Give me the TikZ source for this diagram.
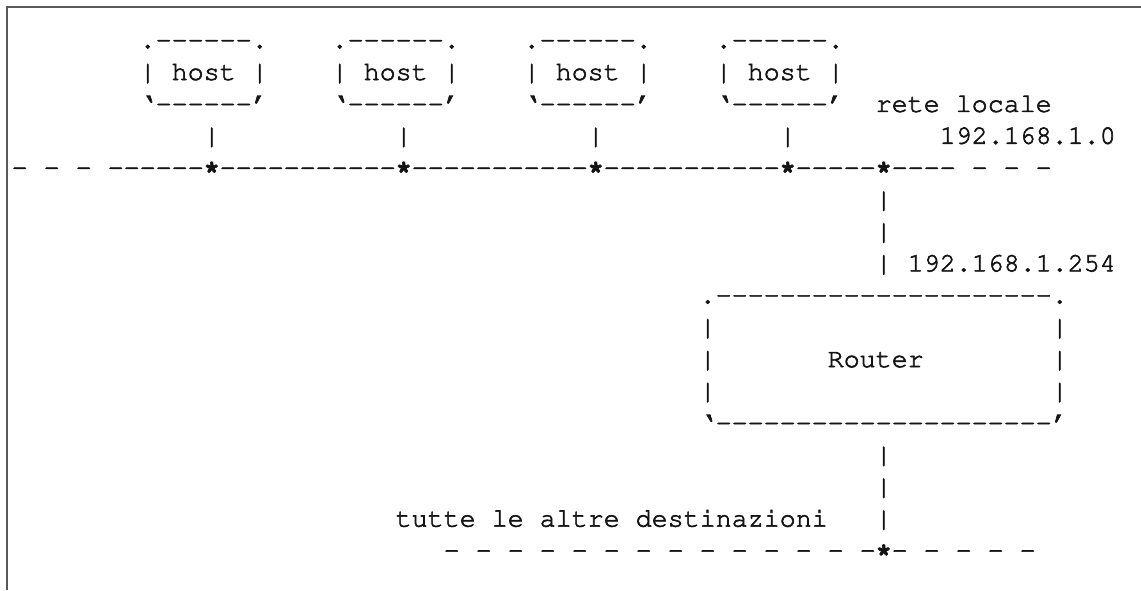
\documentclass[tikz,border=0pt]{standalone}
\usepackage[T1,TU]{fontenc}
\newcount\dcnt
\newcommand\dashes[1]{\dcnt=0\relax\loop\ifnum\dcnt<#1\relax -{}\advance\dcnt by 1\relax\repeat}
\newcommand\st{\makebox[12pt][c]{\raisebox{1.2pt}{\fontseries{b}\selectfont *}}}
\tikzset{
  asc/.style={anchor=base west, inner sep=0pt, outer sep=0pt, text=black!92,
    font=\fontencoding{T1}\fontfamily{pcr}\fontseries{m}\fontshape{n}\fontsize{20}{24}\selectfont,
    execute at begin node={\special{pdf:literal direct 2 Tr 0.45 w}},
    execute at end node={\special{pdf:literal direct 0 Tr 0.4 w}}},
  frameline/.style={draw=black!65, line width=1pt}
}
\newcommand\txtat[4]{\node[asc] (#1) at (#2,#3) {#4};}
\begin{document}
\begin{tikzpicture}
\useasboundingbox (0pt,0pt) rectangle (855.75pt,-442.5pt);
\draw[frameline] (855.75pt,-5.25pt) -- (5.25pt,-5.25pt) -- (5.25pt,-442.5pt);
\begin{scope}[x=12pt, y=-23.925pt, shift={(8.8pt,-12.15pt)}]
% hosts
\txtat{hAt}{8}{1}{.\dashes{6}.}
\txtat{hBt}{20}{1}{.\dashes{6}.}
\txtat{hCt}{32}{1}{.\dashes{6}.}
\txtat{hDt}{44}{1}{.\dashes{6}.}
\txtat{hA}{8}{2}{| host |}
\txtat{hB}{20}{2}{| host |}
\txtat{hC}{32}{2}{| host |}
\txtat{hD}{44}{2}{| host |}
\txtat{hAb}{8}{3}{`\dashes{6}'}
\txtat{hBb}{20}{3}{`\dashes{6}'}
\txtat{hCb}{32}{3}{`\dashes{6}'}
\txtat{hDb}{44}{3}{`\dashes{6}'}
\txtat{rete}{54}{3}{rete locale}
\txtat{lA}{12}{4}{|}
\txtat{lB}{24}{4}{|}
\txtat{lC}{36}{4}{|}
\txtat{lD}{48}{4}{|}
\txtat{net}{58}{4}{192.168.1.0}
% LAN line
\txtat{lan}{0}{5}{- - - \dashes{6}\st\dashes{11}\st\dashes{11}\st\dashes{11}\st\dashes{5}\st\dashes{4} - - -}
% link to router
\txtat{uA}{54}{6}{|}
\txtat{uB}{54}{7}{|}
\txtat{uC}{54}{8}{| 192.168.1.254}
% router
\txtat{rt}{43}{9}{.\dashes{21}.}
\txtat{rlA}{43}{10}{|}
\txtat{rrA}{65}{10}{|}
\txtat{rlB}{43}{11}{|}
\txtat{router}{51}{11}{Router}
\txtat{rrB}{65}{11}{|}
\txtat{rlC}{43}{12}{|}
\txtat{rrC}{65}{12}{|}
\txtat{rb}{43}{13}{`\dashes{21}'}
% link down
\txtat{dA}{54}{14}{|}
\txtat{dB}{54}{15}{|}
\txtat{tutte}{24}{16}{tutte le altre destinazioni}
\txtat{dC}{54}{16}{|}
\txtat{wan}{27}{17}{- - - - - - - - - - - - - -\st- - - - -}
\end{scope}
\end{tikzpicture}
\end{document}
